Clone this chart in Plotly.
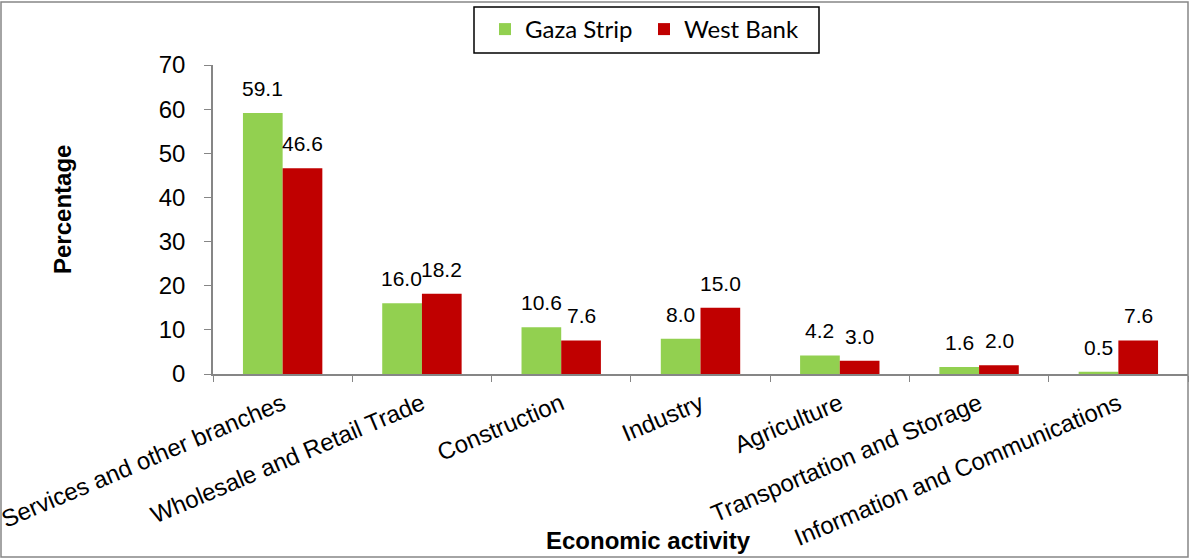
import plotly.graph_objects as go

# -- Data --
categories = [
    "Services and other branches",
    "Wholesale and Retail Trade",
    "Construction",
    "Industry",
    "Agriculture",
    "Transportation and Storage",
    "Information and Communications",
]
gaza_strip = [59.1, 16.0, 10.6, 8.0, 4.2, 1.6, 0.5]
west_bank = [46.6, 18.2, 7.6, 15.0, 3.0, 2.0, 7.6]

GREEN = "#92D050"
RED = "#C00000"
AXIS_GREY = "#868686"
FONT = "Liberation Sans, Arial, sans-serif"

# Figure geometry (pixels)
W, H = 1190, 559
L, R, T, B = 213, 2, 65, 185
PW, PH = W - L - R, H - T - B


def px_x(x):
    # pixel x -> paper x
    return (x - L) / PW


def px_y(y):
    # pixel y -> paper y
    return (H - B - y) / PH


fig = go.Figure()
fig.add_trace(go.Bar(x=categories, y=gaza_strip, name="Gaza Strip",
                     marker=dict(color=GREEN, line=dict(width=0))))
fig.add_trace(go.Bar(x=categories, y=west_bank, name="West Bank",
                     marker=dict(color=RED, line=dict(width=0))))

# -- Value labels above each bar --
annotations = []
for series, shift in [(gaza_strip, -20), (west_bank, 20)]:
    for cat, val in zip(categories, series):
        annotations.append(dict(
            x=cat, y=val, text=f"{val:.1f}", showarrow=False,
            xshift=shift, yshift=11, yanchor="bottom",
            font=dict(family=FONT, size=21, color="#000000"),
        ))

# -- Axis titles --
annotations.append(dict(
    x=px_x(648), y=px_y(540), xref="paper", yref="paper",
    text="<b>Economic activity</b>", showarrow=False,
    xanchor="center", yanchor="middle",
    font=dict(family=FONT, size=24, color="#000000"),
))
annotations.append(dict(
    x=px_x(62), y=px_y(210), xref="paper", yref="paper",
    text="<b>Percentage</b>", showarrow=False, textangle=-90,
    xanchor="center", yanchor="middle",
    font=dict(family=FONT, size=24, color="#000000"),
))

fig.update_layout(
    width=W, height=H,
    margin=dict(l=L, r=R, t=T, b=B, autoexpand=False),
    paper_bgcolor="white", plot_bgcolor="white",
    barmode="group", bargap=0.43, bargroupgap=0,
    font=dict(family=FONT, size=24, color="#000000"),
    showlegend=True,
    legend=dict(
        orientation="h", x=px_x(485), y=px_y(7),
        xanchor="left", yanchor="top",
        borderwidth=0, bgcolor="rgba(0,0,0,0)",
        font=dict(family="Lato, sans-serif", size=24),
        entrywidth=114, itemwidth=30,
    ),
    annotations=annotations,
    shapes=[
        # outer chart border
        dict(type="rect", xref="paper", yref="paper",
             x0=px_x(1), x1=px_x(1188), y0=px_y(557), y1=px_y(2),
             line=dict(color=AXIS_GREY, width=1.5), fillcolor="rgba(0,0,0,0)"),
        # legend box
        dict(type="rect", xref="paper", yref="paper",
             x0=px_x(474), x1=px_x(819), y0=px_y(53), y1=px_y(7),
             line=dict(color="#000000", width=1.5), fillcolor="rgba(0,0,0,0)"),
    ],
)

fig.update_xaxes(
    showline=True, linecolor=AXIS_GREY, linewidth=1.5,
    ticks="outside", tickson="boundaries", ticklen=6, tickcolor=AXIS_GREY,
    tickangle=-23, tickfont=dict(family=FONT, size=24), ticklabelstandoff=5,
    showgrid=False,
)
fig.update_yaxes(
    range=[0, 70], dtick=10, showline=True, linecolor=AXIS_GREY, linewidth=1.5,
    ticks="outside", ticklen=7, tickcolor=AXIS_GREY,
    tickfont=dict(family=FONT, size=24), ticklabelstandoff=14,
    showgrid=False, zeroline=False,
)

# drop the browser's default page margin so the figure sits at (0, 0)
fig.write_html("out.html", config={"displayModeBar": False},
               post_script="document.body.style.margin='0';")
